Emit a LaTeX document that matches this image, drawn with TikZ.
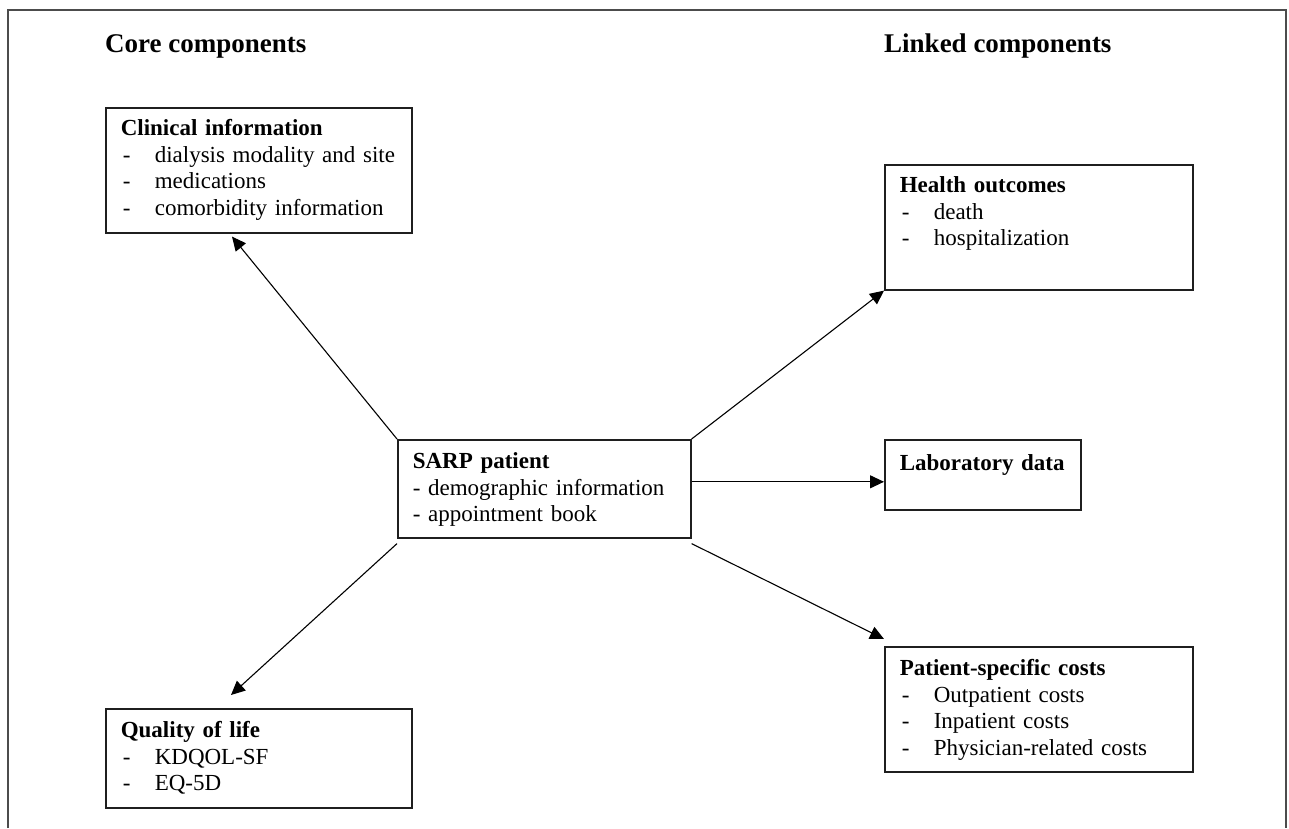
\documentclass[tikz,border=0pt]{standalone}
\usepackage{fontspec}
\setmainfont{Liberation Serif}
\usetikzlibrary{arrows.meta,positioning}

\definecolor{framegray}{gray}{0.3}
\definecolor{boxline}{gray}{0.12}

\newcommand{\itm}[1]{\\\hspace*{2pt}\makebox[32pt][l]{-}#1}

\begin{document}
\begin{tikzpicture}[
		x=1pt, y=-1pt,
		every node/.style = {inner sep=0pt, font=\fontsize{23}{26.5}\selectfont},
		heading/.style = {anchor=base west, font=\fontsize{27}{30}\selectfont\bfseries},
		compbox/.style = {
			draw=boxline, line width=1.6pt,
			anchor=north west, align=left,
			inner xsep=15pt, inner ysep=0pt},
		link/.style = {draw=black, line width=1.1pt, -{Triangle[length=14pt,width=13pt]}}]

		\useasboundingbox (0,0) rectangle (1289,828);
		\draw[framegray, line width=1.3pt] (8,828) -- (8,10) -- (1286,10) -- (1286,828);

		\node[heading] (core) at (105,52) {Core components};
		\node[heading] (linked) at (884,52) {Linked components};

		\node[compbox, text width=276pt, text height=28pt, text depth=97pt] (clinical) at (105,107)
			{\textbf{Clinical information}\itm{dialysis modality and site}\itm{medications}\itm{comorbidity information}};
		\node[compbox, text width=276pt, text height=29pt, text depth=70pt] (quality) at (105,708)
			{\textbf{Quality of life}\itm{KDQOL-SF}\itm{EQ-5D}};
		\node[compbox, text width=263pt, text height=29pt, text depth=69pt] (sarp) at (397,439)
			{\textbf{SARP patient}\\- demographic information\\- appointment book};
		\node[compbox, text width=278pt, text height=28pt, text depth=97pt] (health) at (884,164)
			{\textbf{Health outcomes}\itm{death}\itm{hospitalization}};
		\node[compbox, text width=166pt, text height=31pt, text depth=39pt] (lab) at (884,439)
			{\textbf{Laboratory data}};
		\node[compbox, text width=278pt, text height=29pt, text depth=96pt] (costs) at (884,646)
			{\textbf{Patient-specific costs}\itm{Outpatient costs}\itm{Inpatient costs}\itm{Physician-related costs}};

		\draw[link] (sarp.north west) -- ([xshift=127pt,yshift=-3pt]clinical.south west);
		\draw[link] (sarp.north east) -- (health.south west);
		\draw[link] ([yshift=7pt]sarp.east) -- ([yshift=-7pt]lab.west);
		\draw[link] ([yshift=-5pt]sarp.south east) -- ([yshift=7pt]costs.north west);
		\draw[link] ([yshift=-5pt]sarp.south west) -- ([xshift=126pt,yshift=13pt]quality.north west);
\end{tikzpicture}
\end{document}
